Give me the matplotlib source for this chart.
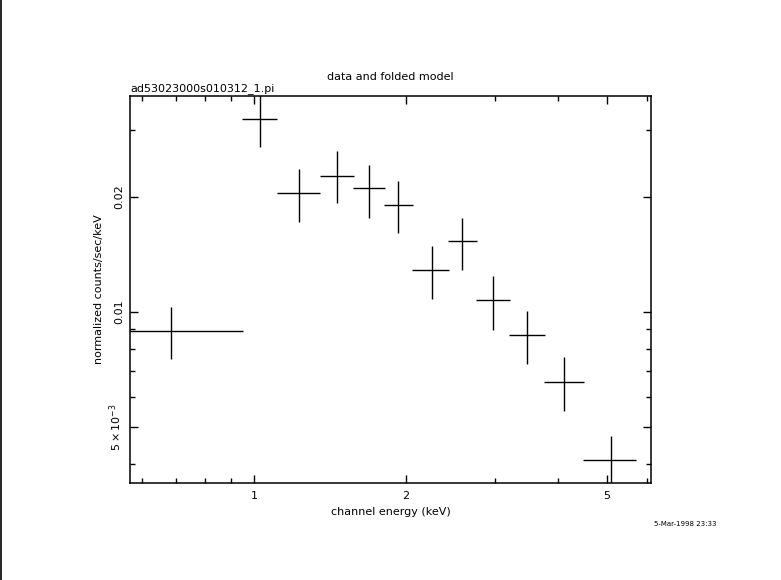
import matplotlib
matplotlib.use("Agg")
import matplotlib.pyplot as plt
from matplotlib.lines import Line2D
from matplotlib.ticker import FixedLocator, FixedFormatter, NullFormatter

# channel energy bins (keV)
energy = [0.685, 1.028, 1.228, 1.46, 1.69, 1.928, 2.248, 2.585, 2.978, 3.476, 4.117, 5.10]
energy_lo = [0.56, 0.947, 1.111, 1.351, 1.571, 1.809, 2.058, 2.422, 2.752, 3.199, 3.758, 4.483]
energy_hi = [0.951, 1.111, 1.351, 1.577, 1.817, 2.065, 2.43, 2.761, 3.214, 3.77, 4.497, 5.70]

# normalized counts/sec/keV
rate = [0.00892, 0.03199, 0.02045, 0.02274, 0.02112, 0.01906, 0.01285, 0.01531, 0.01075, 0.00869, 0.006546, 0.0041]
rate_lo = [0.00753, 0.02708, 0.0172, 0.01932, 0.01762, 0.01609, 0.01083, 0.0129, 0.00899, 0.00733, 0.00551, 0.00345]
rate_hi = [0.0103, 0.0369, 0.02367, 0.02638, 0.02425, 0.02203, 0.01488, 0.01762, 0.01242, 0.01006, 0.00762, 0.004735]

x_major = [1, 2, 5]
x_major_labels = ["1", "2", "5"]
x_minor = [0.6, 0.7, 0.8, 0.9, 3, 4, 6]
y_major = [0.005, 0.01, 0.02]
y_major_labels = [r"$5\times10^{-3}$", "0.01", "0.02"]
y_minor = [0.004, 0.006, 0.007, 0.008, 0.009, 0.03]

fig = plt.figure(figsize=(7.81, 5.80), dpi=100)
ax = fig.add_axes([0.1665, 0.1672, 0.667, 0.6673])

xerr = [[e - lo for e, lo in zip(energy, energy_lo)], [hi - e for e, hi in zip(energy, energy_hi)]]
yerr = [[r - lo for r, lo in zip(rate, rate_lo)], [hi - r for r, hi in zip(rate, rate_hi)]]
ax.errorbar(energy, rate, xerr=xerr, yerr=yerr, fmt="none", ecolor="black",
            elinewidth=1.0, capsize=0)

ax.set_xscale("log")
ax.set_yscale("log")
ax.set_xlim(0.568, 6.11)
ax.set_ylim(0.003567, 0.03675)

ax.xaxis.set_major_locator(FixedLocator(x_major))
ax.xaxis.set_major_formatter(FixedFormatter(x_major_labels))
ax.xaxis.set_minor_locator(FixedLocator(x_minor))
ax.xaxis.set_minor_formatter(NullFormatter())
ax.yaxis.set_major_locator(FixedLocator(y_major))
ax.yaxis.set_major_formatter(FixedFormatter(y_major_labels))
ax.yaxis.set_minor_locator(FixedLocator(y_minor))
ax.yaxis.set_minor_formatter(NullFormatter())

ax.tick_params(which="both", direction="in", top=True, right=True, color="black", width=1.0)
ax.tick_params(which="major", length=6, labelsize=8, pad=6)
ax.tick_params(which="minor", length=3.5)
ax.tick_params(axis="y", which="major", pad=4)
for lbl in ax.get_yticklabels():
    lbl.set_rotation(90)
    lbl.set_va("center")

for sp in ax.spines.values():
    sp.set_linewidth(1.1)

ax.set_xlabel("channel energy (keV)", fontsize=8, labelpad=4)
ax.set_ylabel("normalized counts/sec/keV", fontsize=8, labelpad=3)

fig.text(0.5, 0.868, "data and folded model", ha="center", va="center", fontsize=8)
ax.text(0.0, 1.005, "ad53023000s010312_1.pi", transform=ax.transAxes, ha="left",
        va="bottom", fontsize=8)
fig.text(0.918, 0.096, "5-Mar-1998 23:33", ha="right", va="center", fontsize=5)

fig.add_artist(Line2D([0.0008, 0.0008], [0, 1], color="black", lw=1.2))

fig.savefig("out.png", dpi=100, facecolor="white")
